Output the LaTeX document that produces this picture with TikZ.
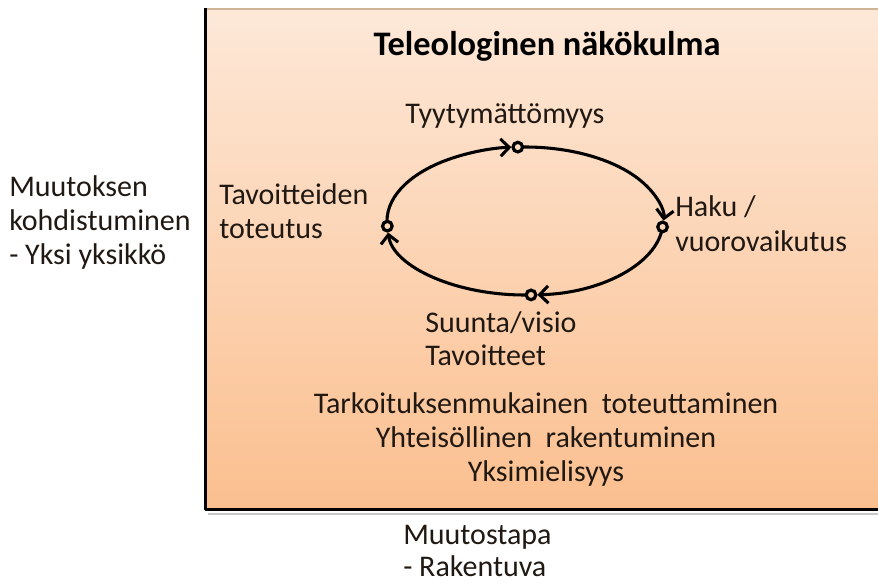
\documentclass[tikz,border=0pt]{standalone}
\usepackage{fontspec}
\setmainfont{Carlito}
\usetikzlibrary{arrows.meta,backgrounds}
\definecolor{boxtop}{RGB}{253,232,216}
\definecolor{boxbot}{RGB}{251,191,143}
\definecolor{ink}{RGB}{32,24,18}
\definecolor{rimtan}{RGB}{205,178,150}
\begin{document}
\begin{tikzpicture}[x=0.75pt,y=-0.75pt,
  lbl/.style={font=\fontsize{22.5}{27}\selectfont, text=ink, inner sep=0pt},
  ttl/.style={font=\fontsize{25.8}{30}\selectfont\bfseries, text=black, inner sep=0pt},
  ringmark/.style={circle, draw=black, line width=2.4pt, minimum size=7.2pt, inner sep=0pt},
  flow/.style={draw=black, line width=2.3pt, -{Straight Barb[length=6.5pt,width=13pt]}, shorten >=4.8pt}
]
\useasboundingbox (0,0) rectangle (878,584);

% panel with vertical gradient
\begin{scope}[on background layer]
  \shade[top color=boxtop, bottom color=boxbot] (205,9) rectangle (880,509);
  \draw[rimtan, line width=1.1pt] (205,9) -- (880,9);
  \draw[black!22, line width=1.5pt] (208,513.5) -- (880,513.5);
  \draw[black, line width=2.8pt, line join=round] (205.5,8) -- (205.5,509.5) -- (880,509.5);
\end{scope}

% cycle markers on the ellipse
\node[ringmark, fill=boxbot!27!boxtop] (ptop)   at ([shift={(525,221)}]267:138 and 74) {};
\node[ringmark, fill=boxbot!43!boxtop] (pright) at ([shift={(525,221)}]4.6:138 and 74) {};
\node[ringmark, fill=boxbot!57!boxtop] (pbot)   at ([shift={(525,221)}]87.5:138 and 74) {};
\node[ringmark, fill=boxbot!43!boxtop] (pleft)  at ([shift={(525,221)}]176:138 and 74) {};

% arcs of the cycle, clockwise
\begin{scope}[on background layer]
  \draw[flow] (ptop.center)   arc[start angle=267,  end angle=364.6, x radius=138, y radius=74];
  \draw[flow] (pright.center) arc[start angle=4.6,  end angle=87.5,  x radius=138, y radius=74];
  \draw[flow] (pbot.center)   arc[start angle=87.5, end angle=176,   x radius=138, y radius=74];
  \draw[flow] (pleft.center)  arc[start angle=176,  end angle=267,   x radius=138, y radius=74];
\end{scope}

% title
\node[ttl, anchor=base] (title) at (547,56) {Teleologinen näkökulma};

% labels around the cycle
\node[lbl, anchor=base west] (tyyt) at (405,124) {Tyytymättömyys};
\node[lbl, anchor=base west] (haku) at (675,217) {Haku /};
\node[lbl, anchor=base west] (vuor) at (675,252) {vuorovaikutus};
\node[lbl, anchor=base west] (tavo) at (219,205) {Tavoitteiden};
\node[lbl, anchor=base west] (tote) at (219,239) {toteutus};
\node[lbl, anchor=base west] (suun) at (425,333) {Suunta/visio};
\node[lbl, anchor=base west] (tavt) at (425,366) {Tavoitteet};

% characteristics
\node[lbl, anchor=base] (char1) at (546,414) {Tarkoituksenmukainen\ \ toteuttaminen};
\node[lbl, anchor=base] (char2) at (546,447) {Yhteisöllinen\ \ rakentuminen};
\node[lbl, anchor=base] (char3) at (546,481) {Yksimielisyys};

% axis captions
\node[lbl, anchor=base west] (ax1) at (9,197) {Muutoksen};
\node[lbl, anchor=base west] (ax2) at (9,231) {kohdistuminen};
\node[lbl, anchor=base west] (ax3) at (9,265) {- Yksi yksikkö};
\node[lbl, anchor=base west] (ax4) at (403,544) {Muutostapa};
\node[lbl, anchor=base west] (ax5) at (403,576) {- Rakentuva};
\end{tikzpicture}
\end{document}
